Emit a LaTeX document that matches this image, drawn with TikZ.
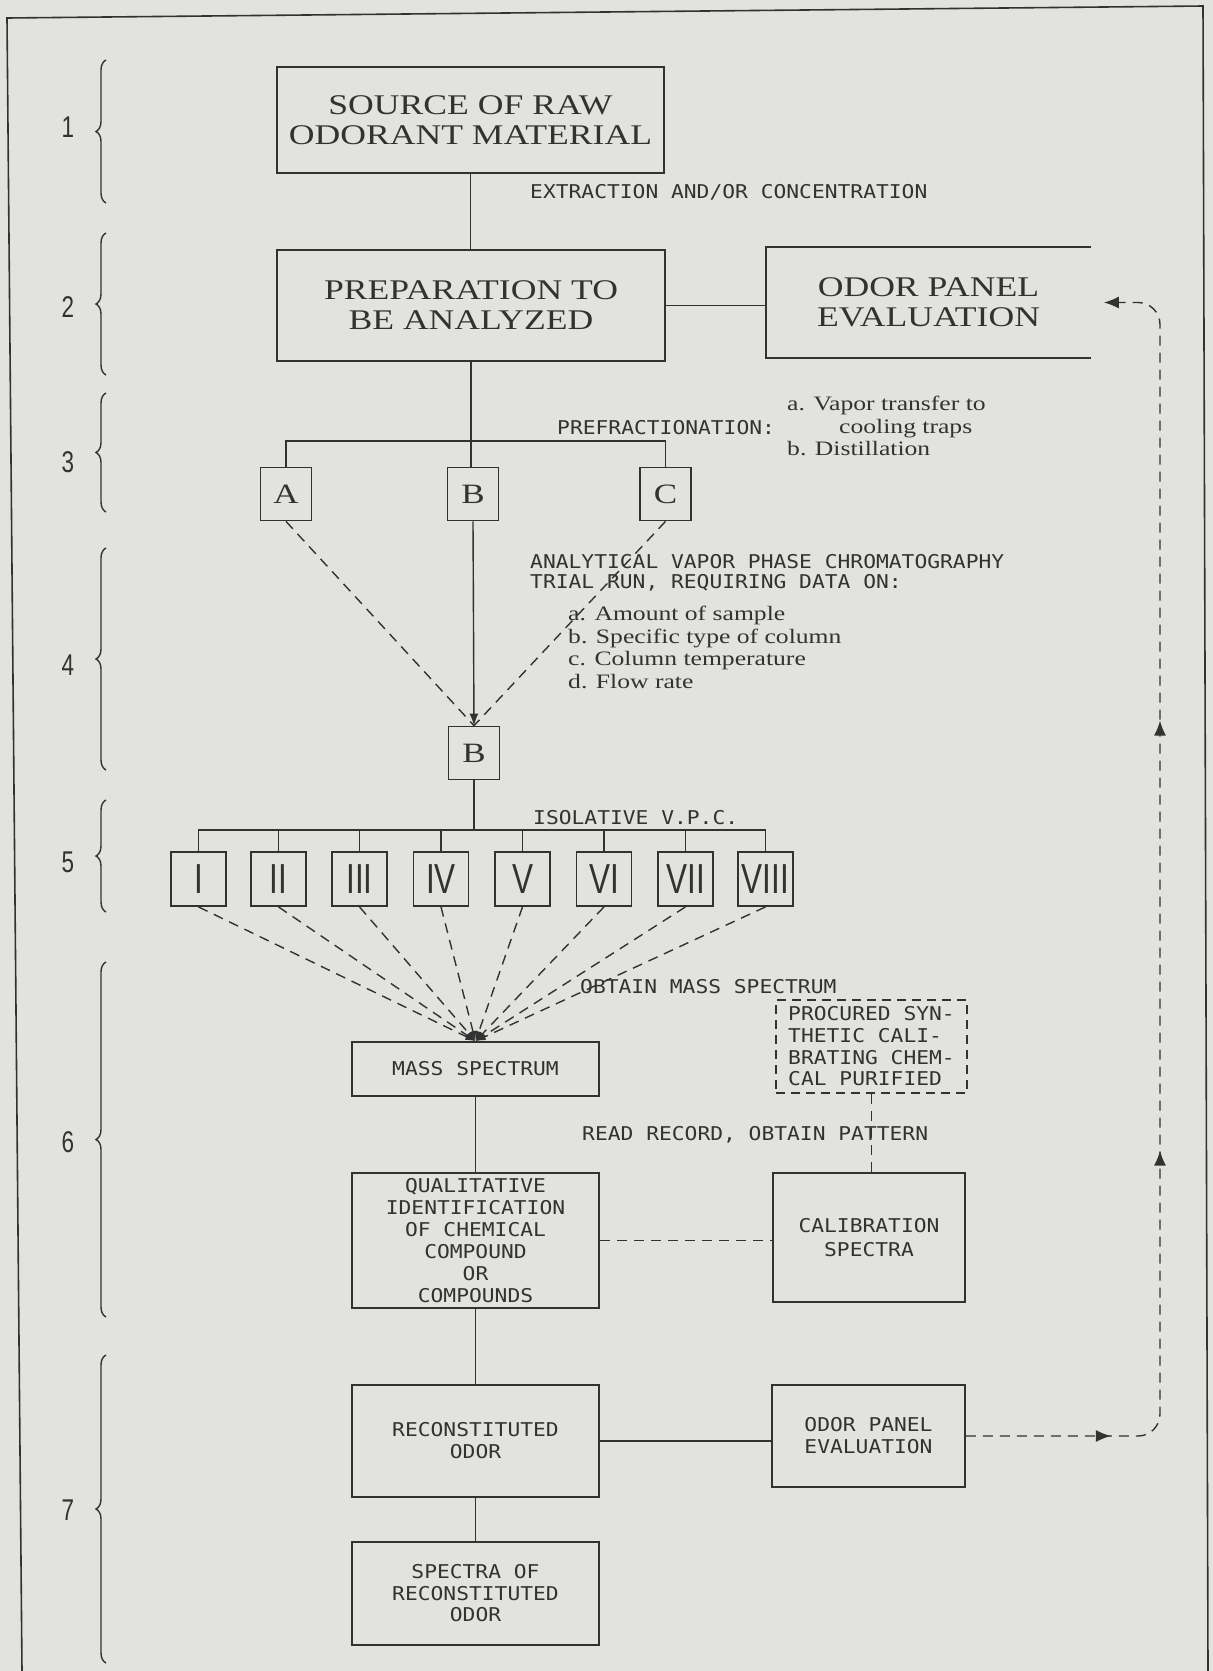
\documentclass[tikz,border=0pt]{standalone}
\usepackage{fontspec}
\setmainfont{Liberation Serif}
\newfontfamily\typerfont[FakeStretch=1.25]{Liberation Serif}
\newfontfamily\leroyfont[FakeStretch=1.12]{DejaVu Sans Mono}
\newfontfamily\numfont[FakeStretch=0.75]{Liberation Sans}
\usepackage{tikz}
\usetikzlibrary{positioning,arrows.meta,decorations.pathreplacing,decorations.markings}

\definecolor{paper}{RGB}{226,226,223}
\definecolor{ink}{RGB}{50,50,50}

\tikzset{
  box/.style={draw=ink, line width=1.8pt, inner sep=0pt, align=center, text=ink},
  bigbox/.style={box, font=\typerfont\fontsize{28.5}{30}\selectfont},
  letbox/.style={box, minimum width=51pt, minimum height=53pt, font=\typerfont\fontsize{28}{30}\selectfont},
  numbox/.style={box, minimum width=55pt, minimum height=54pt, font=\numfont\fontsize{42}{42}\selectfont},
  labbox/.style={box, font=\leroyfont\fontsize{19}{22}\selectfont},
  lettering/.style={anchor=west, inner sep=0pt, text=ink, align=left, font=\leroyfont\fontsize{19}{20}\selectfont},
  typed/.style={anchor=west, inner sep=0pt, text=ink, align=left, font=\typerfont\fontsize{20.5}{22.7}\selectfont},
  conn/.style={draw=ink, line width=1.4pt},
  dconn/.style={conn, dash pattern=on 10pt off 7pt},
  arrowend/.style={-{Latex[length=12pt,width=9pt]}},
  stagebrace/.style={draw=ink, line width=1.4pt, decorate, decoration={brace, amplitude=10pt}},
  stagenum/.style={text=ink, font=\numfont\fontsize{30}{30}\selectfont},
}

\begin{document}
\begin{tikzpicture}[x=1pt,y=-1pt]
% paper and outer frame
\fill[paper] (0,0) rectangle (1213,1671);
\useasboundingbox (0,0) rectangle (1213,1671);
\draw[conn, line width=1.6pt] (22,1671) -- (7,18) -- (1203,6) -- (1208,1671);

% stage braces and numbers
\foreach \lo/\hi/\k/\ly in {203/60/1/127, 375/233/2/307, 512/393/3/462, 770/548/4/665,
    912/800/5/862, 1317/962/6/1142, 1663/1355/7/1510}{
  \draw[stagebrace] (106,\lo) -- (106,\hi);
  \node[stagenum] (stage\k) at (68,\ly) {\k};
}

% stages 1 and 2
\node[bigbox, minimum width=387pt, minimum height=106pt] (source) at (470.5,120) {SOURCE OF RAW\\ODORANT MATERIAL};
\node[bigbox, minimum width=388pt, minimum height=111pt] (prep) at (471,305.5) {PREPARATION TO\\BE ANALYZED};
\node[bigbox, draw=none, minimum width=323pt, minimum height=109pt] (panel) at (928.5,302.5) {ODOR PANEL\\EVALUATION};
\draw[draw=ink, line width=1.8pt] (panel.north east) -- (panel.north west) -- (panel.south west) -- (panel.south east);
\node[lettering] (extract) at (530,192) {EXTRACTION AND/OR CONCENTRATION};
\draw[conn] (source.south) -- (source.south |- prep.north);
\draw[conn] (prep.east) -- (prep.east -| panel.west);

% stage 3: prefractionation
\node[letbox] (A) at (286,494) {A};
\node[letbox] (B) at (473,494) {B};
\node[letbox] (C) at (665.5,494) {C};
\coordinate (fork1) at (473,441);
\draw[conn] (prep.south) -- (prep.south |- B.north);
\draw[conn] (A.north) |- (fork1) -| (C.north);
\node[lettering] (prefrac) at (557,428) {PREFRACTIONATION:};
\node[typed] (methods) at (787,426) {a. Vapor transfer to\\\hspace*{52pt}cooling traps\\b. Distillation};

% stage 4: trial run
\node[letbox] (Bsel) at (474,753) {B};
\draw[dconn] (A.south) -- (Bsel.north);
\draw[dconn] (C.south) -- (Bsel.north);
\draw[conn, arrowend] (B.south) -- (Bsel.north);
\node[lettering] (avpc) at (530,573) {ANALYTICAL VAPOR PHASE CHROMATOGRAPHY\\TRIAL RUN, REQUIRING DATA ON:};
\node[typed] (data) at (568,647.5) {a. Amount of sample\\b. Specific type of column\\c. Column temperature\\d. Flow rate};

% stage 5: isolative v.p.c.
\foreach \n/\x in {I/198.5, II/278.5, III/359.5, IV/441, V/522.5, VI/604, VII/685.5, VIII/765.5}
  \node[numbox] (r\n) at (\x,879) {\n};
\coordinate (fork2) at (474,830);
\draw[conn] (Bsel.south) -- (Bsel.south |- fork2);
\draw[conn] (rI.north) |- (fork2) -| (rVIII.north);
\foreach \n in {II,III,IV,V,VI,VII}
  \draw[conn] (r\n.north) -- (r\n.north |- fork2);
\node[lettering] (isol) at (533,818) {ISOLATIVE V.P.C.};

% stage 6: mass spectra
\node[labbox, minimum width=247pt, minimum height=54pt] (mass) at (475.5,1069) {MASS SPECTRUM};
\foreach \n in {I,II,III,IV,V,VI,VII,VIII}
  \draw[dconn, -{Latex[length=10pt,width=7pt]}] (r\n.south) -- (mass.north);
\node[lettering] (obtain) at (580,987) {OBTAIN MASS SPECTRUM};
\node[labbox, dash pattern=on 9pt off 6pt, align=left, minimum width=191pt, minimum height=93pt,
  font=\leroyfont\fontsize{19}{21.7}\selectfont] (synth) at (871.5,1046.5) {PROCURED SYN-\\THETIC CALI-\\BRATING CHEM-\\CAL PURIFIED};
\node[labbox, minimum width=247pt, minimum height=135pt] (qual) at (475.5,1240.5)
  {QUALITATIVE\\IDENTIFICATION\\OF CHEMICAL\\COMPOUND\\OR\\COMPOUNDS};
\node[labbox, minimum width=192pt, minimum height=129pt, font=\leroyfont\fontsize{19}{24}\selectfont] (calib) at (869,1237.5) {CALIBRATION\\SPECTRA};
\node[lettering] (read) at (582,1135) {READ RECORD, OBTAIN PATTERN};
\draw[conn] (mass.south) -- (qual.north);
\draw[dconn] (synth.south) -- (synth.south |- calib.north);
\draw[dconn] (qual.east) -- (qual.east -| calib.west);

% stage 7: reconstitution
\node[labbox, minimum width=247pt, minimum height=112pt] (recon) at (475.5,1441) {RECONSTITUTED\\ODOR};
\node[labbox, minimum width=193pt, minimum height=102pt] (panel2) at (868.5,1436) {ODOR PANEL\\EVALUATION};
\node[labbox, minimum width=247pt, minimum height=103pt, font=\leroyfont\fontsize{19}{21.5}\selectfont] (spectra) at (475.5,1593.5) {SPECTRA OF\\RECONSTITUTED\\ODOR};
\draw[conn] (qual.south) -- (recon.north);
\draw[conn] (recon.south) -- (spectra.north);
\draw[conn] (recon.east) -- (recon.east -| panel2.west);

% feedback loop back to the first odor panel
\coordinate (loopx) at (1160,0);
\draw[dconn, rounded corners=22pt, -{Latex[length=15pt,width=12pt]}, shorten >=13pt,
  postaction={decorate}, decoration={markings,
    mark=at position 145pt with {\arrow{Latex[length=15pt,width=12pt]}},
    mark=at position 470pt with {\arrow{Latex[length=15pt,width=12pt]}},
    mark=at position 900pt with {\arrow{Latex[length=15pt,width=12pt]}}}]
  (panel2.east) -- (panel2.east -| loopx) -- (panel.east -| loopx) -- (panel.east);
\end{tikzpicture}
\end{document}
